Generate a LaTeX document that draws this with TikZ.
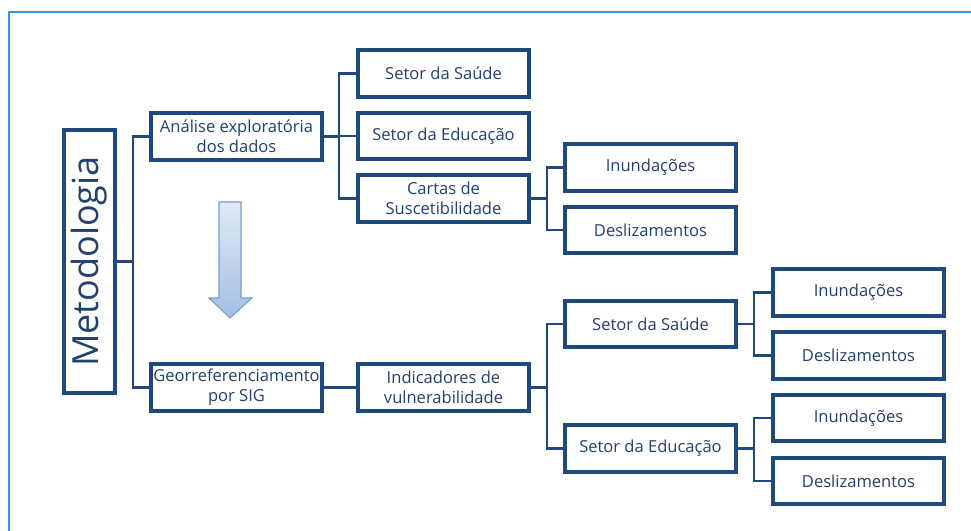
\documentclass[tikz,border=0pt]{standalone}
\usepackage{fontspec}
\setmainfont{Open Sans}
\usetikzlibrary{shadows}
\definecolor{boxblue}{RGB}{31,73,125}
\definecolor{txtblue}{RGB}{36,64,108}
\definecolor{frameblue}{RGB}{58,145,220}
\definecolor{arrtop}{RGB}{225,234,246}
\definecolor{arrbot}{RGB}{163,190,228}
\definecolor{arrline}{RGB}{120,157,205}
\tikzset{
 box/.style={draw=boxblue,line width=3pt,fill=white,text=txtblue,minimum width=128pt,minimum height=35pt,
  inner sep=1pt,align=center,font=\fontsize{12.4}{15}\selectfont,
  drop shadow={shadow xshift=1pt,shadow yshift=-1.2pt,opacity=.25}},
 link/.style={draw=boxblue,line width=2pt}
}
\begin{document}
\begin{tikzpicture}[x=.75pt,y=-.75pt]
\useasboundingbox (0,0) rectangle (971,531);
\draw[frameblue,line width=1.3pt] (9,531)--(9,12)--(971,12);
% nodes
\node[box,rotate=90,minimum width=197pt,minimum height=38pt,font=\fontsize{27}{30}\selectfont] (met) at (89.5,261.5) {Metodologia};
\node[box] (ana) at (236.5,136.5) {Análise exploratória\\dos dados};
\node[box] (geo) at (236.5,387.5) {Georreferenciamento\\por SIG};
\node[box] (sau1) at (443.5,73.5) {Setor da Saúde};
\node[box] (edu1) at (443.5,136) {Setor da Educação};
\node[box] (car) at (443.5,198.5) {Cartas de\\Suscetibilidade};
\node[box] (inu1) at (650.5,167.5) {Inundações};
\node[box] (des1) at (650.5,230) {Deslizamentos};
\node[box] (ind) at (443.5,387.5) {Indicadores de\\vulnerabilidade};
\node[box] (sau2) at (650.5,324) {Setor da Saúde};
\node[box] (edu2) at (650.5,448.5) {Setor da Educação};
\foreach \n/\y/\t in {inu2/292.5/Inundações,des2/355.5/Deslizamentos,inu3/418/Inundações,des3/481/Deslizamentos}
 \node[box] (\n) at (858.5,\y) {\t};
% connectors
\draw[link] (met.south) -- ++(16,0) coordinate (m) |- (ana.west); \draw[link] (m) |- (geo.west);
\draw[link] (ana.east) -- ++(15,0) coordinate (a) |- (sau1.west); \draw[link] (a) |- (edu1.west); \draw[link] (a) |- (car.west);
\draw[link] (car.east) -- ++(16,0) coordinate (c) |- (inu1.west); \draw[link] (c) |- (des1.west);
\draw[link] (geo.east) -- (ind.west);
\draw[link] (ind.east) -- ++(16,0) coordinate (i) |- (sau2.west); \draw[link] (i) |- (edu2.west);
\draw[link] (sau2.east) -- ++(16,0) coordinate (s) |- (inu2.west); \draw[link] (s) |- (des2.west);
\draw[link] (edu2.east) -- ++(16,0) coordinate (e) |- (inu3.west); \draw[link] (e) |- (des3.west);
% block arrow
\shade[top color=arrtop,bottom color=arrbot,draw=arrline,line width=.8pt]
 (219,202)--(241,202)--(241,298)--(252,298)--(230,318)--(209,298)--(219,298)--cycle;
\end{tikzpicture}
\end{document}
